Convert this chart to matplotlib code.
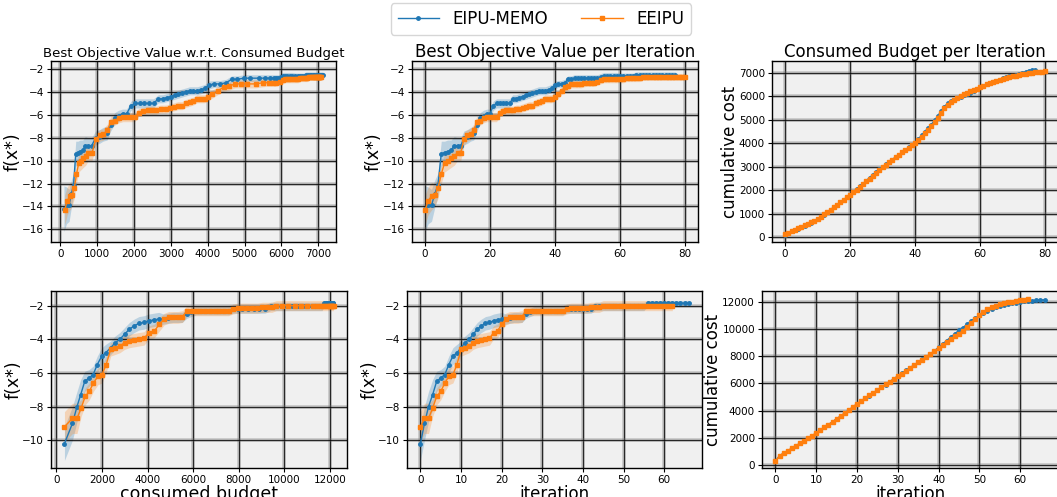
import numpy as np
import matplotlib
matplotlib.use('Agg')
from matplotlib import pyplot as plt
import matplotlib.patheffects as pe

# ---- first experiment (top row) ----
top_obj_memo = [-14.2, -13.9, -13.9, -12.9, -12.1, -9.4, -9.3, -9.2, -9.1, -8.7,
                -8.7, -8.7, -8.0, -7.9, -7.7, -7.6, -6.9, -6.3, -6.1, -5.9,
                -5.9, -5.2, -5.0, -5.0, -5.0, -5.0, -5.0, -4.6, -4.6, -4.5,
                -4.4, -4.3, -4.2, -4.1, -4.0, -3.9, -3.9, -3.9, -3.8, -3.7,
                -3.4, -3.3, -3.3, -3.2, -2.9, -2.9, -2.8, -2.8, -2.8, -2.8,
                -2.8, -2.8, -2.8, -2.8, -2.7, -2.6, -2.6, -2.6, -2.6, -2.6,
                -2.6, -2.6, -2.6, -2.6, -2.6, -2.5, -2.5, -2.5, -2.5, -2.5,
                -2.5, -2.5, -2.5, -2.5, -2.5, -2.5, -2.5, -2.5]
top_std_memo = [2.0, 1.6, 1.4, 1.2, 1.0, 1.1, 1.0, 1.0, 0.9, 0.8,
                0.7, 0.7, 0.6, 0.6, 0.6, 0.6, 0.5, 0.5, 0.5, 0.4,
                0.4, 0.4, 0.4, 0.4, 0.4, 0.4, 0.4, 0.35, 0.35, 0.35,
                0.35, 0.35, 0.35, 0.35, 0.35, 0.35, 0.35, 0.35, 0.35, 0.35,
                0.35, 0.3, 0.3, 0.3, 0.3, 0.3, 0.3, 0.3, 0.3, 0.3,
                0.3, 0.3, 0.3, 0.3, 0.3, 0.3, 0.3, 0.3, 0.3, 0.3,
                0.25, 0.25, 0.25, 0.25, 0.25, 0.25, 0.25, 0.25, 0.25, 0.25,
                0.25, 0.25, 0.25, 0.25, 0.25, 0.25, 0.25, 0.25]
top_cost_memo = [100, 170, 240, 300, 360, 420, 480, 540, 610, 680,
                 750, 850, 960, 1060, 1160, 1270, 1370, 1480, 1580, 1690,
                 1800, 1920, 2040, 2160, 2280, 2410, 2530, 2660, 2780, 2890,
                 3000, 3100, 3200, 3300, 3410, 3510, 3610, 3720, 3820, 3920,
                 4030, 4180, 4340, 4500, 4650, 4800, 4980, 5160, 5380, 5560,
                 5700, 5790, 5860, 5920, 5980, 6040, 6100, 6160, 6220, 6300,
                 6380, 6450, 6510, 6570, 6620, 6670, 6720, 6770, 6810, 6850,
                 6890, 6930, 6970, 7010, 7050, 7080, 7110, 7130]

top_obj_eeipu = [-14.3, -13.5, -13.1, -13.0, -12.4, -11.2, -10.2, -10.0, -9.8, -9.6,
                 -9.3, -9.3, -8.1, -7.8, -7.7, -7.3, -6.6, -6.5, -6.3, -6.2,
                 -6.2, -6.2, -6.2, -5.8, -5.7, -5.6, -5.6, -5.6, -5.5, -5.5,
                 -5.4, -5.3, -5.2, -5.2, -5.0, -4.9, -4.8, -4.6, -4.6, -4.6,
                 -4.4, -4.2, -3.9, -3.6, -3.5, -3.3, -3.3, -3.3, -3.3, -3.2,
                 -3.2, -3.2, -3.2, -3.1, -3.0, -2.9, -2.9, -2.9, -2.9, -2.9,
                 -2.9, -2.9, -2.8, -2.8, -2.8, -2.8, -2.8, -2.7, -2.7, -2.7,
                 -2.7, -2.7, -2.7, -2.7, -2.7, -2.7, -2.7, -2.7, -2.7, -2.7,
                 -2.7]
top_std_eeipu = [1.3, 1.2, 1.2, 1.0, 0.9, 0.8, 0.8, 0.8, 0.8, 0.8,
                 0.7, 0.7, 0.6, 0.5, 0.5, 0.5, 0.5, 0.4, 0.4, 0.4,
                 0.4, 0.4, 0.4, 0.35, 0.35, 0.35, 0.35, 0.35, 0.35, 0.35,
                 0.35, 0.35, 0.35, 0.35, 0.35, 0.35, 0.35, 0.35, 0.35, 0.35,
                 0.35, 0.35, 0.35, 0.35, 0.35, 0.35, 0.35, 0.35, 0.35, 0.35,
                 0.3, 0.3, 0.3, 0.3, 0.3, 0.3, 0.3, 0.3, 0.3, 0.3,
                 0.3, 0.3, 0.3, 0.3, 0.3, 0.3, 0.3, 0.3, 0.3, 0.3,
                 0.3, 0.3, 0.3, 0.3, 0.3, 0.3, 0.3, 0.3, 0.3, 0.3,
                 0.3]
top_cost_eeipu = [120, 190, 260, 320, 380, 440, 500, 560, 620, 690,
                  760, 860, 970, 1070, 1170, 1280, 1380, 1480, 1590, 1700,
                  1800, 1910, 2020, 2130, 2250, 2370, 2480, 2600, 2720, 2860,
                  2980, 3090, 3190, 3300, 3410, 3510, 3610, 3710, 3810, 3920,
                  4000, 4120, 4270, 4430, 4580, 4740, 4900, 5080, 5300, 5500,
                  5650, 5760, 5850, 5950, 6030, 6090, 6150, 6210, 6270, 6330,
                  6390, 6450, 6510, 6560, 6610, 6660, 6700, 6740, 6780, 6820,
                  6850, 6880, 6910, 6940, 6960, 6980, 7000, 7020, 7040, 7060,
                  7080]

# ---- second experiment (bottom row) ----
bot_obj_memo = [-10.2, -9.0, -8.0, -7.3, -6.5, -6.3, -6.1, -5.5, -5.0, -4.8,
                -4.5, -4.2, -4.0, -3.7, -3.4, -3.2, -3.05, -3.0, -2.9, -2.85,
                -2.8, -2.8, -2.75, -2.7, -2.7, -2.7, -2.5, -2.4, -2.3, -2.3,
                -2.3, -2.3, -2.3, -2.3, -2.3, -2.3, -2.2, -2.2, -2.2, -2.2,
                -2.2, -2.2, -2.2, -2.05, -2.05, -2.05, -2.05, -2.05, -2.05, -2.05,
                -2.05, -2.05, -2.05, -2.05, -2.05, -2.05, -1.85, -1.85, -1.85, -1.85,
                -1.85, -1.85, -1.85, -1.85, -1.85, -1.85, -1.85]
bot_std_memo = [1.0, 1.0, 0.9, 0.9, 0.6, 0.5, 0.5, 0.5, 0.5, 0.5,
                0.4, 0.4, 0.4, 0.4, 0.4, 0.4, 0.4, 0.4, 0.4, 0.4,
                0.4, 0.3, 0.3, 0.3, 0.3, 0.3, 0.25, 0.25, 0.25, 0.25,
                0.25, 0.25, 0.25, 0.25, 0.25, 0.25, 0.25, 0.25, 0.25, 0.25,
                0.25, 0.25, 0.25, 0.25, 0.25, 0.25, 0.25, 0.25, 0.25, 0.25,
                0.25, 0.25, 0.25, 0.25, 0.25, 0.25, 0.15, 0.15, 0.15, 0.15,
                0.15, 0.15, 0.15, 0.15, 0.15, 0.15, 0.15]
bot_cost_memo = [350, 700, 900, 1060, 1240, 1430, 1610, 1790, 1990, 2160,
                 2380, 2580, 2780, 2990, 3200, 3410, 3620, 3840, 4050, 4270,
                 4490, 4700, 4900, 5110, 5310, 5510, 5720, 5920, 6130, 6340,
                 6560, 6760, 6960, 7160, 7360, 7560, 7760, 7960, 8160, 8400,
                 8650, 8900, 9150, 9400, 9650, 9900, 10100, 10350, 10600, 10800,
                 11000, 11200, 11350, 11480, 11580, 11660, 11740, 11810, 11870, 11930,
                 11980, 12020, 12050, 12080, 12100, 12120, 12140]

bot_obj_eeipu = [-9.2, -8.7, -8.7, -8.1, -7.4, -7.1, -6.6, -6.2, -6.1, -5.5,
                 -4.6, -4.5, -4.4, -4.2, -4.1, -4.05, -4.0, -3.95, -3.6, -3.5,
                 -3.1, -2.8, -2.7, -2.7, -2.7, -2.65, -2.3, -2.3, -2.3, -2.3,
                 -2.3, -2.3, -2.3, -2.3, -2.3, -2.3, -2.2, -2.15, -2.15, -2.15,
                 -2.15, -2.15, -2.1, -2.1, -2.1, -2.0, -2.0, -2.0, -2.0, -2.0,
                 -2.0, -2.0, -2.0, -2.0, -2.0, -2.0, -2.0, -2.0, -2.0, -2.0,
                 -2.0, -2.0, -2.0]
bot_std_eeipu = [0.9, 0.9, 0.9, 0.5, 0.5, 0.5, 0.5, 0.5, 0.5, 0.5,
                 0.4, 0.4, 0.4, 0.4, 0.4, 0.4, 0.4, 0.4, 0.4, 0.4,
                 0.4, 0.35, 0.35, 0.35, 0.35, 0.35, 0.3, 0.3, 0.3, 0.3,
                 0.3, 0.3, 0.3, 0.3, 0.3, 0.3, 0.3, 0.3, 0.3, 0.3,
                 0.3, 0.3, 0.3, 0.3, 0.3, 0.3, 0.3, 0.3, 0.3, 0.3,
                 0.3, 0.3, 0.3, 0.3, 0.3, 0.3, 0.3, 0.3, 0.3, 0.3,
                 0.3, 0.3, 0.3]
bot_cost_eeipu = [350, 700, 900, 1080, 1260, 1440, 1620, 1820, 2000, 2180,
                  2380, 2580, 2780, 2990, 3200, 3410, 3620, 3840, 4060, 4300,
                  4520, 4730, 4930, 5130, 5330, 5530, 5730, 5930, 6120, 6320,
                  6520, 6730, 6940, 7140, 7340, 7550, 7750, 7950, 8160, 8380,
                  8600, 8820, 9040, 9260, 9450, 9650, 9880, 10150, 10450, 10750,
                  11000, 11250, 11450, 11600, 11700, 11800, 11880, 11950, 12010, 12060,
                  12100, 12130, 12160]

cost_std = 60

BLUE = '#1f77b4'
ORANGE = '#ff7f0e'
BG = '#f0f0f0'


def style_ax(ax):
    ax.set_facecolor(BG)
    ax.grid(True, color='k', linewidth=0.9, alpha=0.8)
    ax.tick_params(labelsize=7.5, length=3, width=0.8, pad=2)
    for sp in ax.spines.values():
        sp.set_linewidth(1.0)


def draw(ax, x, y, std, color, marker, ms, label):
    x = np.asarray(x, dtype=float)
    y = np.asarray(y, dtype=float)
    std = np.asarray(std, dtype=float)
    ax.fill_between(x, y - std, y + std, color=color, alpha=0.25, linewidth=0)
    line, = ax.plot(x, y, color=color, marker=marker, markersize=ms,
                    linewidth=1.0, label=label)
    return line


fig = plt.figure(figsize=(10.57, 4.97), dpi=100)
W, H = 1057.0, 497.0


def add_ax(left, top, right, bottom):
    return fig.add_axes([left / W, 1 - bottom / H, (right - left) / W, (bottom - top) / H])


rows = [
    dict(memo=(top_obj_memo, top_std_memo, top_cost_memo),
         eeipu=(top_obj_eeipu, top_std_eeipu, top_cost_eeipu),
         boxes=[(51, 61, 336, 242), (412, 61, 698, 242), (772, 61, 1058, 242)],
         ylim=(-17.1, -1.3), cylim=(-213, 7510)),
    dict(memo=(bot_obj_memo, bot_std_memo, bot_cost_memo),
         eeipu=(bot_obj_eeipu, bot_std_eeipu, bot_cost_eeipu),
         boxes=[(51, 291, 347, 468), (407, 291, 702, 468), (762, 291, 1058, 468)],
         ylim=(-11.65, -1.13), cylim=(-195, 12780)),
]

all_axes = []
handles = None
for r, row in enumerate(rows):
    ax_b, ax_i, ax_c = [add_ax(*b) for b in row['boxes']]
    for ax in (ax_b, ax_i, ax_c):
        style_ax(ax)
        all_axes.append(ax)
    mo, ms_, mc = row['memo']
    eo, es, ec = row['eeipu']

    # objective vs consumed budget
    h1 = draw(ax_b, mc, mo, ms_, BLUE, 'o', 2.5, 'EIPU-MEMO')
    h2 = draw(ax_b, ec, eo, es, ORANGE, 's', 3, 'EEIPU')
    # objective vs iteration
    draw(ax_i, np.arange(len(mo)), mo, ms_, BLUE, 'o', 2.5, 'EIPU-MEMO')
    draw(ax_i, np.arange(len(eo)), eo, es, ORANGE, 's', 3, 'EEIPU')
    # cumulative cost vs iteration
    draw(ax_c, np.arange(len(mc)), mc, np.full(len(mc), cost_std), BLUE, 'o', 2.5, 'EIPU-MEMO')
    draw(ax_c, np.arange(len(ec)), ec, np.full(len(ec), cost_std), ORANGE, 's', 3, 'EEIPU')

    for ax in (ax_b, ax_i):
        ax.set_ylim(*row['ylim'])
        ax.set_ylabel('f(x*)', fontsize=12.5, labelpad=0)
    ax_c.set_ylim(*row['cylim'])
    ax_c.set_ylabel('cumulative cost', fontsize=12, labelpad=0)

    if r == 0:
        ax_b.set_title('Best Objective Value w.r.t. Consumed Budget', fontsize=9.5, pad=3)
        ax_i.set_title('Best Objective Value per Iteration', fontsize=12, pad=3)
        ax_c.set_title('Consumed Budget per Iteration', fontsize=12, pad=3)
        ax_i.set_xticks([0, 20, 40, 60, 80])
        ax_c.set_xticks([0, 20, 40, 60, 80])
        ax_b.set_yticks([-2, -4, -6, -8, -10, -12, -14, -16])
        ax_i.set_yticks([-2, -4, -6, -8, -10, -12, -14, -16])
        handles = [h1, h2]
    else:
        ax_b.set_xlabel('consumed budget', fontsize=12.5, labelpad=0)
        ax_i.set_xlabel('iteration', fontsize=12, labelpad=0)
        ax_c.set_xlabel('iteration', fontsize=12, labelpad=0)

fig.legend(handles=handles, labels=['EIPU-MEMO', 'EEIPU'], loc='upper center',
           bbox_to_anchor=(541 / W, 1.0), ncol=2, fontsize=12, frameon=True,
           borderaxespad=0.2, handlelength=2.5)

# grey halo around the grid lines
fig.canvas.draw()
for ax in all_axes:
    for gl in ax.get_xgridlines() + ax.get_ygridlines():
        gl.set_path_effects([pe.Stroke(linewidth=2.6, foreground=(0.45, 0.45, 0.45, 0.35)),
                             pe.Normal()])

fig.savefig('out.png', dpi=100)
